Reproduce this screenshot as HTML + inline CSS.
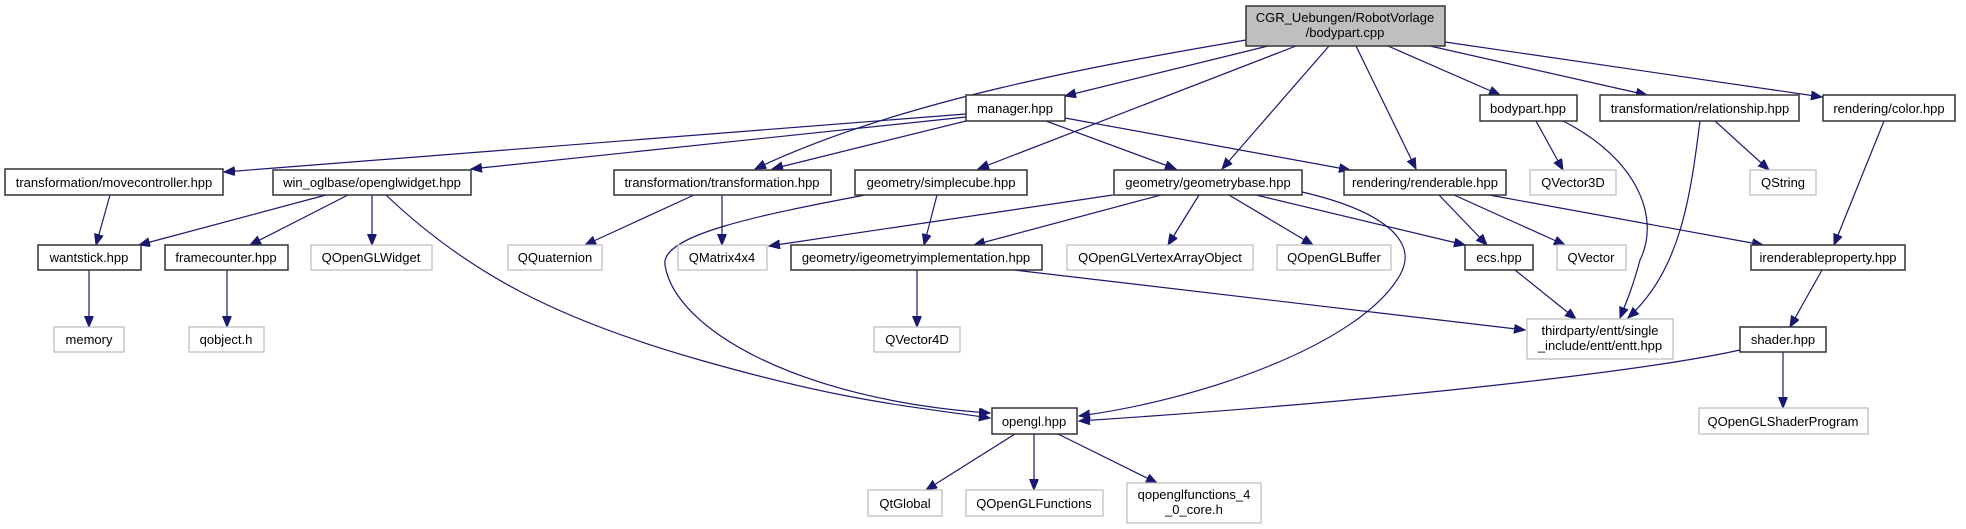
<!DOCTYPE html>
<html><head><meta charset="utf-8"><style>
html,body{margin:0;padding:0;background:#fff;}
svg{display:block;}
text{font-family:"Liberation Sans",Arial,sans-serif;font-size:13px;fill:#000;text-anchor:middle;}
.b{fill:#fff;stroke:#333;stroke-width:1.5;}
.g{fill:#fff;stroke:#bfbfbf;stroke-width:1.3;}
.m{fill:#bfbfbf;stroke:#333;stroke-width:1.5;}
.e{fill:none;stroke:#191970;stroke-width:1.2;marker-end:url(#a);}
</style></head><body>
<svg width="1966" height="529" viewBox="0 0 1966 529" xmlns="http://www.w3.org/2000/svg">
<defs><marker id="a" markerUnits="userSpaceOnUse" markerWidth="12" markerHeight="10" refX="11" refY="4.5" orient="auto"><path d="M0,0 L11,4.5 L0,9 z" fill="#191970" stroke="#191970"/></marker></defs>
<!-- edges -->
<path class="e" d="M1268,46 L1065,96"/>
<path class="e" d="M1246,40 C1100,65 900,100 755,169"/>
<path class="e" d="M1296,46 L978,169"/>
<path class="e" d="M1329,46 L1222,169"/>
<path class="e" d="M1356,46 L1416,169"/>
<path class="e" d="M1388,46 L1500,95"/>
<path class="e" d="M1430,46 L1647,95"/>
<path class="e" d="M1445,42 L1822,97"/>
<path class="e" d="M966,114 L224,172"/>
<path class="e" d="M966,117 L471,169"/>
<path class="e" d="M966,121 L772,169"/>
<path class="e" d="M1046,121 L1176,169"/>
<path class="e" d="M1065,118 L1350,170"/>
<path class="e" d="M326,195 L139,245"/>
<path class="e" d="M348,195 L250,245"/>
<path class="e" d="M372,195 L372,245"/>
<path class="e" d="M386,195 C470,275 560,320 700,360 S900,405 990,418"/>
<path class="e" d="M110,195 L96,245"/>
<path class="e" d="M89,270 L89,327"/>
<path class="e" d="M227,270 L227,327"/>
<path class="e" d="M694,195 L585,245"/>
<path class="e" d="M722,195 L722,245"/>
<path class="e" d="M937,195 L924,245"/>
<path class="e" d="M865,195 C760,215 660,235 665,265 C675,330 800,400 990,413"/>
<path class="e" d="M1113,195 L769,246"/>
<path class="e" d="M1161,195 L974,245"/>
<path class="e" d="M1199,195 L1168,245"/>
<path class="e" d="M1229,195 L1313,245"/>
<path class="e" d="M1256,195 L1465,245"/>
<path class="e" d="M1302,192 C1380,210 1420,240 1400,275 C1360,345 1200,400 1079,416"/>
<path class="e" d="M917,270 L917,327"/>
<path class="e" d="M1014,270 L1525,330"/>
<path class="e" d="M1439,195 L1487,245"/>
<path class="e" d="M1454,195 L1565,245"/>
<path class="e" d="M1489,195 L1763,245"/>
<path class="e" d="M1536,121 L1563,170"/>
<path class="e" d="M1563,121 C1640,160 1660,220 1640,260 C1632,290 1625,305 1620,318"/>
<path class="e" d="M1715,121 L1769,170"/>
<path class="e" d="M1700,121 C1690,200 1680,270 1628,318"/>
<path class="e" d="M1884,121 L1834,245"/>
<path class="e" d="M1822,270 L1790,327"/>
<path class="e" d="M1515,270 L1576,319"/>
<path class="e" d="M1783,352 L1783,408"/>
<path class="e" d="M1740,350 C1650,370 1400,400 1079,421"/>
<path class="e" d="M1015,434 L926,490"/>
<path class="e" d="M1034,434 L1034,490"/>
<path class="e" d="M1058,434 L1157,483"/>
<!-- nodes -->
<rect class="m" x="1246" y="6" width="199" height="40"/><text x="1345" y="22">CGR_Uebungen/RobotVorlage</text><text x="1345" y="37">/bodypart.cpp</text>
<rect class="b" x="966" y="95" width="99" height="26"/><text x="1015" y="113">manager.hpp</text>
<rect class="b" x="1480" y="95" width="97" height="26"/><text x="1528" y="113">bodypart.hpp</text>
<rect class="b" x="1600" y="95" width="199" height="26"/><text x="1700" y="113">transformation/relationship.hpp</text>
<rect class="b" x="1823" y="95" width="132" height="26"/><text x="1889" y="113">rendering/color.hpp</text>
<rect class="b" x="5" y="169" width="218" height="26"/><text x="114" y="187">transformation/movecontroller.hpp</text>
<rect class="b" x="273" y="170" width="198" height="25"/><text x="372" y="187">win_oglbase/openglwidget.hpp</text>
<rect class="b" x="614" y="170" width="217" height="25"/><text x="722" y="187">transformation/transformation.hpp</text>
<rect class="b" x="855" y="170" width="172" height="25"/><text x="941" y="187">geometry/simplecube.hpp</text>
<rect class="b" x="1114" y="170" width="188" height="25"/><text x="1208" y="187">geometry/geometrybase.hpp</text>
<rect class="b" x="1344" y="170" width="162" height="25"/><text x="1425" y="187">rendering/renderable.hpp</text>
<rect class="g" x="1530" y="170" width="86" height="25"/><text x="1573" y="187">QVector3D</text>
<rect class="g" x="1750" y="170" width="66" height="25"/><text x="1783" y="187">QString</text>
<rect class="b" x="38" y="245" width="103" height="25"/><text x="89" y="262">wantstick.hpp</text>
<rect class="b" x="165" y="245" width="123" height="25"/><text x="226" y="262">framecounter.hpp</text>
<rect class="g" x="311" y="245" width="121" height="25"/><text x="371" y="262">QOpenGLWidget</text>
<rect class="g" x="508" y="245" width="94" height="25"/><text x="555" y="262">QQuaternion</text>
<rect class="g" x="678" y="245" width="89" height="25"/><text x="722" y="262">QMatrix4x4</text>
<rect class="b" x="791" y="245" width="251" height="25"/><text x="916" y="262">geometry/igeometryimplementation.hpp</text>
<rect class="g" x="1067" y="245" width="186" height="25"/><text x="1160" y="262">QOpenGLVertexArrayObject</text>
<rect class="g" x="1277" y="245" width="114" height="25"/><text x="1334" y="262">QOpenGLBuffer</text>
<rect class="b" x="1465" y="245" width="68" height="25"/><text x="1499" y="262">ecs.hpp</text>
<rect class="g" x="1557" y="245" width="69" height="25"/><text x="1591" y="262">QVector</text>
<rect class="b" x="1751" y="245" width="154" height="25"/><text x="1828" y="262">irenderableproperty.hpp</text>
<rect class="g" x="54" y="327" width="70" height="25"/><text x="89" y="344">memory</text>
<rect class="g" x="189" y="327" width="75" height="25"/><text x="226" y="344">qobject.h</text>
<rect class="g" x="874" y="327" width="86" height="25"/><text x="917" y="344">QVector4D</text>
<rect class="g" x="1527" y="319" width="146" height="40"/><text x="1600" y="335">thirdparty/entt/single</text><text x="1600" y="350">_include/entt/entt.hpp</text>
<rect class="b" x="1740" y="327" width="86" height="25"/><text x="1783" y="344">shader.hpp</text>
<rect class="b" x="992" y="408" width="85" height="26"/><text x="1034" y="426">opengl.hpp</text>
<rect class="g" x="1699" y="408" width="169" height="26"/><text x="1783" y="426">QOpenGLShaderProgram</text>
<rect class="g" x="868" y="490" width="74" height="26"/><text x="905" y="508">QtGlobal</text>
<rect class="g" x="966" y="490" width="137" height="26"/><text x="1034" y="508">QOpenGLFunctions</text>
<rect class="g" x="1127" y="483" width="134" height="40"/><text x="1194" y="499">qopenglfunctions_4</text><text x="1194" y="514">_0_core.h</text>
</svg>
</body></html>
